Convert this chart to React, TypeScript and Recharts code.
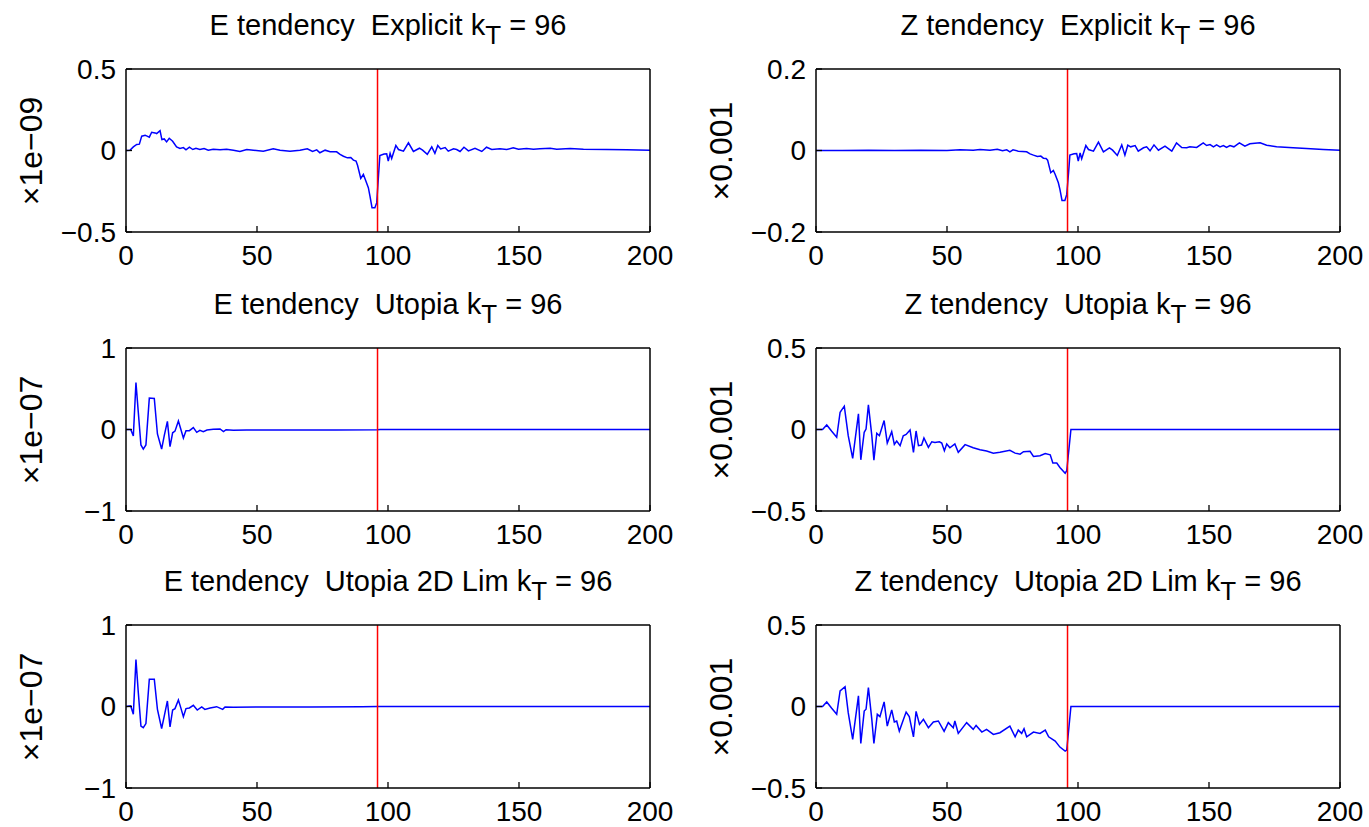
import { LineChart, Line, XAxis, YAxis, ReferenceLine } from "recharts";

const X_TICKS = [0, 50, 100, 150, 200];
const K_T = 96;

// E tendency, Explicit (x1e-09)
const eExplicitX = [0, 1.5, 2.8, 4.1, 5.1, 6, 7.3, 8.9, 9.8, 11.1, 11.7, 13, 13.7, 14.6, 15.5, 16.5, 17.8, 19.3, 20.6, 21.9, 22.9, 24.2, 25.5, 26.7, 28.2, 29.8, 31.4, 33.3, 35.9, 38.4, 41, 43.5, 46.1, 48.6, 52.4, 56.2, 58.8, 62.6, 66.4, 69.2, 71.2, 72.8, 74, 76, 77.9, 80.4, 81.7, 83, 84.5, 85.8, 86.8, 87.8, 88.4, 89.6, 90.6, 91.3, 92.5, 93.1, 93.9, 95, 95.7, 96.4, 96.9, 98.5, 99.5, 100.1, 100.8, 101.4, 103, 104, 105.9, 107.8, 109.7, 112, 113.2, 115, 116.7, 117.9, 119, 120.1, 121.8, 123, 125, 126.2, 127.5, 129, 130.7, 133.2, 135.8, 137.6, 139.6, 142.7, 145.3, 147.8, 149.8, 152.9, 155.5, 158, 161.9, 164.4, 169.5, 174.6, 183.5, 191.1, 200];
const eExplicitY = [0, 0.002, 0.022, 0.037, 0.039, 0.088, 0.094, 0.082, 0.112, 0.108, 0.104, 0.122, 0.067, 0.071, 0.053, 0.075, 0.057, 0.022, 0.012, 0.018, 0.004, 0.02, 0.006, 0.014, 0.006, 0.012, 0.002, 0.008, 0.004, 0.008, 0.002, -0.006, 0.006, 0.002, -0.004, 0.01, 0.002, -0.004, 0.002, 0.01, -0.006, 0.004, -0.014, 0.002, -0.008, -0.008, -0.024, -0.035, -0.045, -0.043, -0.059, -0.065, -0.092, -0.171, -0.147, -0.177, -0.228, -0.279, -0.351, -0.351, -0.32, -0.147, -0.031, -0.022, -0.02, -0.065, -0.018, -0.049, 0.031, 0.006, -0.004, 0.047, -0.006, 0.014, 0.002, -0.024, 0.022, -0.018, 0.031, 0.01, 0.018, -0.004, 0.01, 0.006, -0.006, 0.02, -0.002, 0.014, -0.006, 0.02, 0.006, 0.01, 0.006, 0.016, 0.008, 0.012, 0.008, 0.01, 0.014, 0.008, 0.012, 0.008, 0.006, 0.004, 0.002];

// Z tendency, Explicit (x0.001)
const zExplicitX = [0, 10, 20, 30, 40, 50, 55, 60, 62.6, 66.4, 69.2, 71.2, 72.8, 74, 75.2, 77.2, 80.4, 81.7, 83, 84.5, 85.8, 86.8, 87.8, 88.4, 89.6, 90.6, 91.3, 92.5, 93.1, 93.9, 95, 95.7, 96.4, 96.9, 98.5, 99.5, 100.1, 100.8, 101.4, 103, 104, 105.9, 107.8, 109.7, 112, 113.2, 115, 116.7, 117.9, 119, 120.1, 121.8, 123, 125, 126.2, 127.5, 129, 130.7, 133.2, 135.8, 137.6, 139.6, 141.5, 142.7, 145.3, 147.8, 149.1, 150.4, 151.7, 152.9, 154.2, 155.5, 156.7, 158, 159.5, 161.6, 163.7, 165.6, 167.5, 169.5, 172, 175.8, 182.1, 187.2, 193.6, 200];
const zExplicitY = [0, 0, 0.0008, 0, 0.0008, 0, 0.0016, 0.0008, 0.0024, 0.0008, 0.0032, -0.0008, 0.0016, -0.0032, 0.0016, -0.0016, -0.0032, -0.0082, -0.0114, -0.0146, -0.0138, -0.0188, -0.0196, -0.0236, -0.0546, -0.049, -0.0588, -0.0792, -0.0954, -0.1224, -0.1224, -0.1078, -0.0546, -0.0114, -0.0082, -0.0074, -0.0262, -0.0058, -0.0204, 0.0122, 0.0024, -0.0016, 0.0204, -0.0032, 0.0066, 0.0008, -0.0122, 0.0138, -0.0114, 0.013, 0.009, 0.0122, -0.0016, 0.0066, 0.009, -0.0008, 0.0138, 0.0008, 0.0106, -0.0016, 0.0188, 0.0074, 0.0066, 0.009, 0.0074, 0.0188, 0.0122, 0.0146, 0.009, 0.0138, 0.009, 0.0122, 0.0074, 0.0122, 0.009, 0.0188, 0.0106, 0.0164, 0.018, 0.0188, 0.013, 0.009, 0.0066, 0.0048, 0.0024, 0.0008];

// E tendency, Utopia (x1e-07)
const eUtopiaX = [0, 1.8, 2.8, 3.8, 4.7, 5.7, 6.6, 7.6, 8.9, 10.8, 12, 13.6, 14.6, 15.8, 16.8, 17.8, 18.7, 20, 20.9, 21.9, 22.9, 24.2, 25.7, 27, 28.2, 29.5, 30.9, 33.3, 35.9, 37.2, 38.2, 41, 46, 60, 80, 96, 97, 200];
const eUtopiaY = [0, 0, -0.08, 0.575, 0.21, -0.19, -0.24, -0.19, 0.385, 0.38, -0.055, -0.24, -0.075, 0.1, -0.21, -0.04, -0.02, 0.105, 0.007, -0.105, -0.014, -0.014, 0.023, -0.035, -0.01, -0.026, -0.006, 0.002, 0.007, -0.026, -0.002, -0.01, -0.006, -0.006, -0.005, -0.004, 0, 0];

// Z tendency, Utopia (x0.001)
const zUtopiaX = [0, 2.5, 4.1, 6, 7.9, 9.2, 10.8, 12.3, 14, 16.2, 17.1, 18.4, 19.1, 20, 21.3, 22.1, 23.2, 24.2, 26, 27.2, 28.9, 29.9, 30.8, 32.1, 33.3, 34.4, 35.9, 37.2, 38.2, 39.1, 40.3, 41.2, 42.9, 44.2, 45.4, 47.1, 48, 49, 49.9, 51.1, 53, 54.3, 56.9, 60, 62.6, 65.1, 67.7, 70.2, 74, 76, 77.9, 79.2, 81.7, 83, 85.5, 87.5, 89.4, 90.4, 91.9, 93.1, 95.1, 95.7, 97.3, 200];
const zUtopiaY = [0, 0, 0.028, -0.011, -0.048, 0.106, 0.143, -0.038, -0.177, 0.096, -0.186, -0.017, 0.003, 0.151, -0.038, -0.188, -0.023, -0.038, 0.055, -0.083, -0.013, -0.091, -0.071, -0.099, -0.038, -0.03, -0.003, -0.14, -0.009, -0.099, -0.095, -0.052, -0.11, -0.075, -0.079, -0.075, -0.083, -0.13, -0.089, -0.112, -0.089, -0.14, -0.093, -0.112, -0.124, -0.132, -0.145, -0.14, -0.128, -0.145, -0.151, -0.136, -0.134, -0.165, -0.161, -0.147, -0.155, -0.206, -0.206, -0.233, -0.268, -0.253, 0, 0];

// E tendency, Utopia 2D Lim (x1e-07)
const eLimX = [0, 1.8, 2.8, 3.8, 4.7, 5.7, 6.6, 7.6, 8.9, 10.8, 12, 13.6, 14.6, 15.8, 16.8, 17.8, 18.7, 20, 20.9, 21.9, 22.9, 24.2, 25.7, 27.2, 28.9, 30.1, 32.1, 34.6, 36.9, 37.8, 41, 50, 70, 90, 96, 200];
const eLimY = [0, 0.007, -0.096, 0.575, 0.17, -0.24, -0.26, -0.21, 0.335, 0.335, -0.035, -0.27, -0.117, 0.068, -0.25, -0.043, -0.026, 0.08, -0.014, -0.125, -0.026, -0.018, 0.015, -0.043, -0.006, -0.035, -0.018, -0.002, -0.035, -0.006, -0.01, -0.006, -0.006, -0.002, 0, 0];

// Z tendency, Utopia 2D Lim (x0.001)
const zLimX = [0, 2.5, 4.1, 6, 7.9, 9.2, 11.1, 12.3, 14, 16.2, 17.1, 18.4, 19.1, 20, 21.3, 22.1, 23.4, 24.4, 26, 27.2, 28.9, 29.9, 30.8, 31.8, 33.3, 34.4, 35.6, 37.2, 38.2, 39.5, 41, 42.9, 44.8, 46.7, 48.9, 50.5, 52.4, 53, 54.3, 57.5, 60, 61.1, 63.3, 65.1, 67.7, 70.2, 74, 76, 77.2, 78.5, 79.4, 80.4, 83, 85.5, 87.5, 88.8, 90, 91.3, 93.1, 95.1, 95.7, 97.3, 200];
const zLimY = [0, 0, 0.028, -0.011, -0.048, 0.096, 0.122, -0.038, -0.202, 0.065, -0.227, -0.028, -0.017, 0.116, -0.079, -0.227, -0.048, -0.062, 0.028, -0.12, -0.021, -0.095, -0.089, -0.151, -0.083, -0.034, -0.062, -0.186, -0.03, -0.11, -0.079, -0.13, -0.095, -0.089, -0.153, -0.099, -0.13, -0.089, -0.165, -0.099, -0.14, -0.116, -0.157, -0.14, -0.171, -0.161, -0.12, -0.186, -0.145, -0.165, -0.136, -0.186, -0.157, -0.165, -0.145, -0.186, -0.198, -0.212, -0.249, -0.274, -0.268, 0, 0];

const eExplicitTicks = [-0.5, 0, 0.5];
const zExplicitTicks = [-0.2, 0, 0.2];
const eUtopiaTicks = [-1, 0, 1];
const zUtopiaTicks = [-0.5, 0, 0.5];

const FONT = "'Liberation Sans', Arial, Helvetica, sans-serif";
const tickStyle = { fontSize: 28, fill: "#000", fontFamily: FONT };
const fmt = (v: number) => (v < 0 ? "\u2212" + String(-v) : String(v));
const axisLineStyle = { stroke: "#000", strokeWidth: 1.5 };
const tickLineStyle = { stroke: "#000", strokeWidth: 1.3 };

type PanelProps = {
  letter: string;
  method: string;
  yLabel: string;
  xs: number[];
  ys: number[];
  yTicks: number[];
  left: number;
  top: number;
};

const Panel = ({ letter, method, yLabel, xs, ys, yTicks, left, top }: PanelProps) => {
  const data = xs.map((x, i) => ({ x, y: ys[i] }));
  const dom: [number, number] = [yTicks[0], yTicks[yTicks.length - 1]];
  return (
    <div style={{ position: "absolute", left, top, width: 680, height: 272 }}>
      <div
        style={{
          position: "absolute",
          left: 126,
          width: 524,
          top: 11,
          textAlign: "center",
          fontFamily: FONT,
          fontSize: 29,
          lineHeight: "29px",
          whiteSpace: "pre",
        }}
      >
        {`${letter} tendency  ${method} k`}
        <span style={{ position: "relative", top: 9, fontSize: 26 }}>T</span>
        {` = ${K_T}`}
      </div>
      <div
        style={{
          position: "absolute",
          left: 31,
          top: 151,
          transform: "translate(-50%, -50%) rotate(-90deg)",
          fontFamily: FONT,
          fontSize: 32,
          whiteSpace: "nowrap",
        }}
      >
        {yLabel}
      </div>
      <LineChart width={680} height={272} data={data} margin={{ top: 68, right: 29, bottom: 0, left: 60 }}>
        <XAxis
          dataKey="x"
          type="number"
          domain={[0, 200]}
          ticks={X_TICKS}
          interval={0}
          height={40}
          tickSize={-6}
          tickMargin={19}
          tick={tickStyle}
          axisLine={axisLineStyle}
          tickLine={tickLineStyle}
          allowDataOverflow
        />
        <XAxis
          xAxisId="top"
          orientation="top"
          dataKey="x"
          type="number"
          domain={[0, 200]}
          ticks={X_TICKS}
          interval={0}
          height={1}
          tickSize={-6}
          tick={false}
          axisLine={axisLineStyle}
          tickLine={tickLineStyle}
          allowDataOverflow
        />
        <YAxis
          type="number"
          domain={dom}
          ticks={yTicks}
          interval={0}
          width={66}
          tickSize={-6}
          tickMargin={16}
          tick={tickStyle}
          tickFormatter={fmt}
          axisLine={axisLineStyle}
          tickLine={tickLineStyle}
          allowDataOverflow
        />
        <YAxis
          yAxisId="r"
          orientation="right"
          type="number"
          domain={dom}
          ticks={yTicks}
          interval={0}
          width={1}
          tickSize={-6}
          tick={false}
          axisLine={axisLineStyle}
          tickLine={tickLineStyle}
          allowDataOverflow
        />
        <Line
          type="linear"
          dataKey="y"
          stroke="#0000ff"
          strokeWidth={1.5}
          dot={false}
          isAnimationActive={false}
        />
        <ReferenceLine x={K_T} stroke="#ff0000" strokeWidth={1.5} />
      </LineChart>
    </div>
  );
};

export default function App() {
  return (
    <div style={{ position: "absolute", left: 0, top: 0, width: 1369, height: 827, background: "#fff" }}>
      <Panel letter="E" method="Explicit" yLabel={"\u00d71e\u221209"} xs={eExplicitX} ys={eExplicitY} yTicks={eExplicitTicks} left={0} top={0} />
      <Panel letter="Z" method="Explicit" yLabel={"\u00d70.001"} xs={zExplicitX} ys={zExplicitY} yTicks={zExplicitTicks} left={690} top={0} />
      <Panel letter="E" method="Utopia" yLabel={"\u00d71e\u221207"} xs={eUtopiaX} ys={eUtopiaY} yTicks={eUtopiaTicks} left={0} top={279} />
      <Panel letter="Z" method="Utopia" yLabel={"\u00d70.001"} xs={zUtopiaX} ys={zUtopiaY} yTicks={zUtopiaTicks} left={690} top={279} />
      <Panel letter="E" method="Utopia 2D Lim" yLabel={"\u00d71e\u221207"} xs={eLimX} ys={eLimY} yTicks={eUtopiaTicks} left={0} top={556} />
      <Panel letter="Z" method="Utopia 2D Lim" yLabel={"\u00d70.001"} xs={zLimX} ys={zLimY} yTicks={zUtopiaTicks} left={690} top={556} />
    </div>
  );
}
